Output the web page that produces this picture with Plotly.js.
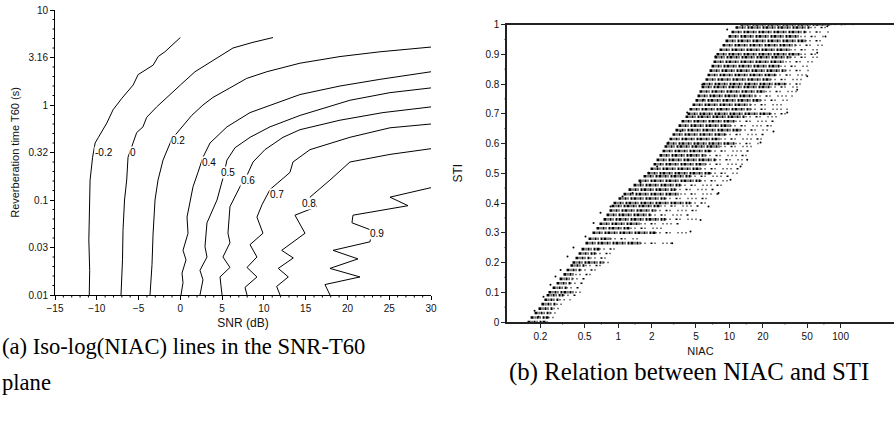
<!DOCTYPE html>
<html>
<head>
<meta charset="utf-8">
<script src="https://cdn.plot.ly/plotly-3.0.1.min.js"></script>
<style>html,body{margin:0;padding:0;background:#fff}#chart{width:894px;height:433px}</style>
</head>
<body>
<div id="chart"></div>
<script>
// ---------- (a) iso-log(NIAC) contour lines: SNR (dB) vs log10(T60) ----------
const contourLevels = ['-0.2', '0', '0.2', '0.4', '0.5', '0.6', '0.7', '0.8', '0.9'];

const snr_m02 = [-10.9, -10.85, -10.95, -10.85, -10.8, -10.5, -10.2, -9.8, -8.8, -8.05, -7.0, -5.65, -5.05, -3.25, -2.65, -1.85, 0.0];
const logT_m02 = [-2.0, -1.74, -1.42, -1.0, -0.79, -0.55, -0.40, -0.34, -0.19, -0.05, 0.07, 0.21, 0.32, 0.42, 0.51, 0.56, 0.71];

const snr_0 = [-7.1, -6.92, -6.86, -6.68, -6.42, -6.26, -5.82, -5.22, -4.47, -4.03, -2.83, -1.63, 0.0, 1.75, 3.91, 6.30, 8.70, 11.09];
const logT_0 = [-2.0, -1.63, -1.32, -1.0, -0.79, -0.55, -0.44, -0.29, -0.23, -0.13, -0.02, 0.08, 0.21, 0.35, 0.47, 0.60, 0.66, 0.71];

const snr_02 = [-3.63, -3.39, -3.27, -3.03, -2.67, -2.07, -1.03, 0.16, 1.36, 2.71, 3.91, 5.94, 7.94, 10.34, 12.73, 14.32, 19.11, 23.89, 30.0];
const logT_02 = [-2.0, -1.68, -1.37, -1.0, -0.79, -0.58, -0.36, -0.23, -0.11, 0.0, 0.08, 0.18, 0.28, 0.35, 0.40, 0.44, 0.51, 0.56, 0.61];

const snr_04 = [0.08, 0.32, 0.2, 0.68, 0.32, 0.92, 0.8, 1.52, 2.11, 2.71, 3.55, 5.58, 8.34, 12.29, 14.32, 19.11, 23.89, 30.0];
const logT_04 = [-2.0, -1.87, -1.77, -1.63, -1.53, -1.35, -1.18, -0.86, -0.71, -0.55, -0.4, -0.23, -0.08, 0.05, 0.11, 0.2, 0.27, 0.35];

const snr_05 = [2.35, 2.71, 2.35, 3.19, 2.95, 3.19, 4.39, 5.1, 5.58, 6.54, 8.34, 10.73, 14.32, 20.3, 25.09, 30.0];
const logT_05 = [-2.0, -1.84, -1.74, -1.6, -1.49, -1.24, -1.0, -0.77, -0.58, -0.45, -0.34, -0.23, -0.11, 0.05, 0.13, 0.18];

const snr_06 = [4.99, 4.75, 5.94, 5.1, 5.94, 5.7, 5.94, 7.14, 7.98, 8.7, 10.13, 12.29, 14.32, 19.11, 24.25, 30.0];
const logT_06 = [-2.0, -1.81, -1.71, -1.6, -1.45, -1.35, -1.07, -0.86, -0.74, -0.6, -0.47, -0.34, -0.26, -0.16, -0.08, -0.02];

const snr_07 = [7.98, 7.74, 9.17, 7.98, 9.17, 8.34, 9.89, 9.17, 9.77, 10.73, 13.12, 13.48, 15.52, 20.3, 25.09, 30.0];
const logT_07 = [-2.0, -1.92, -1.81, -1.71, -1.6, -1.47, -1.35, -1.18, -1.05, -0.89, -0.71, -0.6, -0.47, -0.34, -0.24, -0.2];

const snr_08 = [11.93, 11.53, 12.92, 11.72, 13.52, 12.13, 14.92, 13.72, 16.32, 15.52, 17.91, 20.3, 25.09, 30.0];
const logT_08 = [-2.0, -1.91, -1.81, -1.72, -1.61, -1.53, -1.35, -1.16, -1.07, -0.97, -0.79, -0.6, -0.52, -0.46];

const snr_09 = [17.91, 17.31, 21.5, 17.91, 21.26, 18.27, 22.7, 22.94, 20.54, 20.66, 27.25, 25.09, 30.0];
const logT_09 = [-2.0, -1.89, -1.81, -1.72, -1.62, -1.53, -1.44, -1.32, -1.24, -1.16, -1.06, -0.97, -0.87];

// label positions (SNR, log10 T60)
const labelSnr  = [-9.1, -5.7, -0.3, 3.4, 5.7, 8.1, 11.6, 15.4, 23.5];
const labelLogT = [-0.505, -0.505, -0.37, -0.6, -0.71, -0.79, -0.94, -1.04, -1.35];

// axis ticks of (a)
const snrRange = [-15, 30];
const logTRange = [-2, 1];
const logTTicks = [-2, -1.5, -1, -0.5, 0, 0.5, 1];
const logTTickText = ['0.01', '0.03', '0.1', '0.32', '1', '3.16', '10'];
const logTMinorTicks = [-1.9, -1.8, -1.7, -1.6, -1.4, -1.3, -1.2, -1.1, -0.9, -0.8, -0.7, -0.6,
  -0.4, -0.3, -0.2, -0.1, 0.1, 0.2, 0.3, 0.4, 0.6, 0.7, 0.8, 0.9];
const snrTicks = [-15, -10, -5, 0, 5, 10, 15, 20, 25, 30];
const snrMinorTicks = [-14, -13, -12, -11, -9, -8, -7, -6, -4, -3, -2, -1, 1, 2, 3, 4, 6, 7, 8, 9,
  11, 12, 13, 14, 16, 17, 18, 19, 21, 22, 23, 24, 26, 27, 28, 29];

// ---------- (b) NIAC vs STI: horizontal streaks of the point cloud ----------
const stiLevels = [0, 0.015, 0.03, 0.045, 0.06, 0.075, 0.09, 0.1, 0.115, 0.13, 0.145, 0.16, 0.175, 0.19,
  0.2, 0.215, 0.23, 0.245, 0.265, 0.28, 0.3, 0.315, 0.33, 0.345, 0.36, 0.375, 0.39,
  0.4, 0.415, 0.43, 0.445, 0.46, 0.475, 0.49, 0.5, 0.515, 0.53, 0.545, 0.56, 0.575, 0.59,
  0.6, 0.615, 0.63, 0.645, 0.66, 0.675, 0.69, 0.7, 0.715, 0.73, 0.745, 0.76, 0.775, 0.79,
  0.8, 0.815, 0.83, 0.845, 0.86, 0.875, 0.89, 0.9, 0.915, 0.93, 0.945, 0.96, 0.975, 0.99, 1.0];
const niacStart = [0.153, 0.163, 0.177, 0.192, 0.204, 0.217, 0.227, 0.236, 0.257, 0.279, 0.297, 0.322, 0.343, 0.372,
  0.388, 0.413, 0.440, 0.468, 0.508, 0.541, 0.587, 0.638, 0.679, 0.738, 0.785, 0.835, 0.871,
  0.907, 1.006, 1.116, 1.238, 1.373, 1.523, 1.689, 1.834, 1.952, 2.077, 2.211, 2.352, 2.503, 2.609,
  2.719, 2.893, 3.078, 3.275, 3.486, 3.709, 4.030, 4.200, 4.378, 4.659, 4.956, 5.166, 5.385, 5.614,
  5.731, 6.099, 6.357, 6.626, 6.903, 7.195, 7.345, 7.656, 8.147, 8.670, 9.225, 9.815, 10.44, 11.34, 12.59];
const niacDenseEnd = [0.227, 0.236, 0.246, 0.262, 0.279, 0.297, 0.322, 0.413, 0.343, 0.372, 0.388, 0.413, 0.458, 0.508,
  0.738, 0.563, 0.625, 0.679, 1.587, 0.853, 2.165, 1.290, 1.587, 2.663, 1.952, 2.165, 2.401,
  4.470, 2.663, 3.633, 3.275, 3.633, 5.498, 4.470, 6.763, 5.498, 6.099, 7.499, 6.099, 6.763, 8.318,
  11.34, 8.318, 9.225, 12.59, 10.23, 11.34, 13.96, 23.42, 15.48, 15.48, 19.05, 17.17, 21.12, 23.42,
  31.95, 23.42, 25.98, 31.95, 28.81, 31.95, 35.44, 43.60, 35.44, 39.31, 48.35, 43.60, 48.35, 53.63, 81.14];
const niacEnd = [0.246, 0.262, 0.279, 0.303, 0.336, 0.372, 0.413, 0.478, 0.458, 0.478, 0.519, 0.563, 0.625, 0.693,
  0.853, 0.769, 0.853, 0.946, 3.078, 1.587, 4.288, 2.663, 3.633, 5.498, 4.470, 5.498, 5.498,
  6.490, 7.047, 8.318, 7.499, 8.670, 9.815, 10.23, 12.59, 12.07, 13.12, 13.96, 14.85, 15.48, 17.17,
  19.05, 19.85, 21.12, 23.42, 24.42, 25.98, 28.81, 33.31, 33.31, 31.95, 35.44, 36.94, 40.97, 43.60,
  50.40, 46.39, 51.45, 53.63, 53.63, 59.48, 63.30, 65.97, 63.30, 68.75, 76.24, 73.14, 77.84, 81.14, 130.6];

// isolated points around the cloud
const outlierNiac = [0.177, 0.192, 0.213, 0.246, 0.273, 0.303, 0.350, 0.396, 0.508, 0.600, 0.693, 0.853, 1.093, 1.345, 1.587, 1.873,
  7.50, 5.69, 4.17, 2.83, 9.55, 5.85, 3.63, 2.24,
  75.8, 73.1, 61.6, 50.1, 40.7, 33.1, 24.9, 19.05, 14.45,
  12.59, 10.23, 7.98, 6.49, 5.50, 4.47, 3.06];
const outlierSti = [0.038, 0.018, 0.085, 0.125, 0.153, 0.175, 0.22, 0.25, 0.287, 0.333, 0.367, 0.388, 0.422, 0.434, 0.468, 0.502,
  0.893, 0.798, 0.704, 0.603, 0.983, 0.747, 0.641, 0.523,
  0.994, 0.96, 0.905, 0.826, 0.781, 0.704, 0.64, 0.603, 0.545,
  0.523, 0.478, 0.434, 0.388, 0.343, 0.304, 0.265];

const niacLogRange = [-1, 2.48];
const stiRange = [0, 1];
const niacTicks = [0.2, 0.5, 1, 2, 5, 10, 20, 50, 100];
const niacTickText = ['0.2', '0.5', '1', '2', '5', '10', '20', '50', '100'];
const niacMinorTicks = [0.316, 0.707, 1.414, 3.162, 7.07, 14.14, 31.62, 70.71];
const stiTicks = [0, 0.1, 0.2, 0.3, 0.4, 0.5, 0.6, 0.7, 0.8, 0.9, 1];
const stiTickText = ['0', '0.1', '0.2', '0.3', '0.4', '0.5', '0.6', '0.7', '0.8', '0.9', '1'];
const stiMinorTicks = [0.05, 0.15, 0.25, 0.35, 0.45, 0.55, 0.65, 0.75, 0.85, 0.95];

// ---------- traces ----------
const contourSets = [[snr_m02, logT_m02], [snr_0, logT_0], [snr_02, logT_02], [snr_04, logT_04], [snr_05, logT_05],
  [snr_06, logT_06], [snr_07, logT_07], [snr_08, logT_08], [snr_09, logT_09]];
const traces = contourSets.map((c, i) => ({
  type: 'scatter', mode: 'lines', x: c[0], y: c[1], xaxis: 'x', yaxis: 'y',
  line: {color: '#000', width: 1}, name: contourLevels[i], hoverinfo: 'skip'
}));

const denseX = [], denseY = [], sparseX = [], sparseY = [];
stiLevels.forEach((s, i) => {
  denseX.push(niacStart[i], niacDenseEnd[i], null); denseY.push(s, s, null);
  sparseX.push(niacDenseEnd[i], niacEnd[i], null); sparseY.push(s, s, null);
});
traces.push({type: 'scatter', mode: 'lines', x: denseX, y: denseY, xaxis: 'x2', yaxis: 'y2',
  line: {color: '#000', width: 2.6, dash: '3px,1px,1px,1px,2px,1px,1px,2px,2px,1px'}, connectgaps: false, hoverinfo: 'skip'});
traces.push({type: 'scatter', mode: 'lines', x: sparseX, y: sparseY, xaxis: 'x2', yaxis: 'y2',
  line: {color: '#000', width: 1.5, dash: '1px,3px,1px,5px,2px,2px,1px,7px,1px,3px'}, connectgaps: false, hoverinfo: 'skip'});
traces.push({type: 'scatter', mode: 'markers', x: outlierNiac, y: outlierSti, xaxis: 'x2', yaxis: 'y2',
  marker: {color: '#000', size: 2, line: {width: 0}}, hoverinfo: 'skip'});

const W = 894, H = 433;
const sans = 'Liberation Sans, Arial, sans-serif';
const tickFont = {family: sans, size: 10, color: '#111'};
const annotations = contourLevels.map((t, i) => ({
  xref: 'x', yref: 'y', x: labelSnr[i], y: labelLogT[i], text: t, showarrow: false,
  font: {family: sans, size: 10, color: '#000'}, bgcolor: '#fff', borderpad: 0
}));
const serif = 'Liberation Serif, Times New Roman, serif';
annotations.push({xref: 'paper', yref: 'paper', x: 0, xanchor: 'left', y: (H - 346) / H, yanchor: 'middle',
  text: '(a) Iso-log(NIAC) lines in the SNR-T60', showarrow: false, font: {family: serif, size: 22.6, color: '#000'}});
annotations.push({xref: 'paper', yref: 'paper', x: 0, xanchor: 'left', y: (H - 382) / H, yanchor: 'middle',
  text: 'plane', showarrow: false, font: {family: serif, size: 22.6, color: '#000'}});
annotations.push({xref: 'paper', yref: 'paper', x: 507 / W, xanchor: 'left', y: (H - 372) / H, yanchor: 'middle',
  text: '(b) Relation between NIAC and STI', showarrow: false, font: {family: serif, size: 24.8, color: '#000'}});

const dA = {x: [55 / W, 431 / W], y: [(H - 295) / H, (H - 10) / H]};
const dB = {x: [507 / W, 1], y: [(H - 322) / H, (H - 24.5) / H]};
const pxA = {w: 376, h: 285}, pxB = {w: 387, h: 297.5};

// minor ticks: short unclipped shapes placed in axis-domain fractions
const minorLen = 2.5;
const shapes = [];
const frac = (v, r) => (v - r[0]) / (r[1] - r[0]);
snrMinorTicks.forEach(v => shapes.push({type: 'line', xref: 'x domain', yref: 'y domain',
  x0: frac(v, snrRange), x1: frac(v, snrRange), y0: 0, y1: -minorLen / pxA.h, line: {color: '#000', width: 1}}));
logTMinorTicks.forEach(v => shapes.push({type: 'line', xref: 'x domain', yref: 'y domain',
  y0: frac(v, logTRange), y1: frac(v, logTRange), x0: 0, x1: -minorLen / pxA.w, line: {color: '#000', width: 1}}));
niacMinorTicks.forEach(v => shapes.push({type: 'line', xref: 'x2 domain', yref: 'y2 domain',
  x0: frac(Math.log10(v), niacLogRange), x1: frac(Math.log10(v), niacLogRange), y0: 0, y1: -minorLen / pxB.h,
  line: {color: '#222', width: 1}}));
stiMinorTicks.forEach(v => shapes.push({type: 'line', xref: 'x2 domain', yref: 'y2 domain',
  y0: frac(v, stiRange), y1: frac(v, stiRange), x0: 0, x1: -minorLen / pxB.w, line: {color: '#222', width: 1}}));

const layout = {
  width: W, height: H, margin: {l: 0, r: 0, t: 0, b: 0},
  paper_bgcolor: '#fff', plot_bgcolor: '#fff', showlegend: false,
  xaxis: {domain: dA.x, range: snrRange, tickmode: 'array', tickvals: snrTicks,
    ticks: 'outside', ticklen: 4, tickcolor: '#000', showline: true, linecolor: '#000', linewidth: 1,
    zeroline: false, showgrid: false, tickfont: tickFont, anchor: 'y',
    title: {text: 'SNR (dB)', font: {family: sans, size: 12, color: '#111'}, standoff: 5}},
  yaxis: {domain: dA.y, range: logTRange, tickmode: 'array', tickvals: logTTicks, ticktext: logTTickText,
    ticks: 'outside', ticklen: 4, tickcolor: '#000', showline: true, linecolor: '#000', linewidth: 1,
    zeroline: false, showgrid: false, tickfont: tickFont, anchor: 'x',
    title: {text: 'Reverberation time T60 (s)', font: {family: sans, size: 11, color: '#111'}, standoff: 6}},
  xaxis2: {domain: dB.x, type: 'log', range: niacLogRange, tickmode: 'array', tickvals: niacTicks, ticktext: niacTickText,
    ticks: 'outside', ticklen: 4, tickcolor: '#222', showline: true, linecolor: '#222', linewidth: 1.6, mirror: true,
    zeroline: false, showgrid: false, tickfont: tickFont, anchor: 'y2',
    title: {text: 'NIAC', font: {family: sans, size: 11, color: '#111'}, standoff: 7}},
  yaxis2: {domain: dB.y, range: stiRange, tickmode: 'array', tickvals: stiTicks, ticktext: stiTickText,
    ticks: 'outside', ticklen: 4, tickcolor: '#222', showline: true, linecolor: '#222', linewidth: 1.6,
    zeroline: false, showgrid: false, tickfont: tickFont, anchor: 'x2',
    title: {text: 'STI', font: {family: sans, size: 12, color: '#111'}, standoff: 20}},
  shapes: shapes,
  annotations: annotations
};

Plotly.newPlot('chart', traces, layout, {staticPlot: true, displayModeBar: false});
</script>
</body>
</html>
